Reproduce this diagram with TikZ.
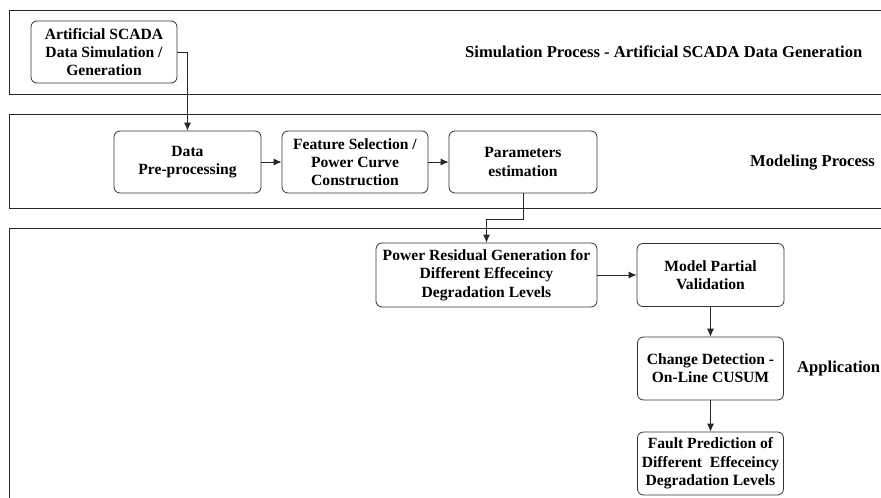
\documentclass[tikz,border=0pt]{standalone}
\usepackage{fontspec}
\setmainfont{Liberation Serif}
\usepackage{tikz}
\usetikzlibrary{arrows.meta}
\tikzset{
  stagebox/.style={draw=black!80, line width=0.8pt, rounded corners=6pt, align=center,
    minimum width=146pt, minimum height=62pt, inner sep=2pt,
    font=\fontsize{15.6}{18.3}\selectfont\bfseries},
  panel/.style={draw=black!85, line width=0.9pt},
  panellabel/.style={anchor=west, inner sep=0pt, font=\fontsize{16.6}{20}\selectfont\bfseries},
  flow/.style={draw=black!85, line width=0.8pt, -{Latex[length=8pt,width=7pt]}}
}

\begin{document}
\begin{tikzpicture}[x=1pt,y=-1pt]
		%%%%% START %%%%%
		\useasboundingbox (0,0) rectangle (881,498);
		\clip (0,0) rectangle (881,498);
		\fill[white] (0,0) rectangle (881,498);
		
		\draw[panel] (9,10) rectangle (900,94);
		\draw[panel] (9,114) rectangle (900,208);
		\draw[panel] (9,228) rectangle (900,530);
		
		\node[panellabel] (simlabel) at (465,52) {Simulation Process - Artificial SCADA Data Generation};
		\node[panellabel] (modlabel) at (750,163) {Modeling Process};
		\node[panellabel] (applabel) at (797,369) {Application};
		
		\node[stagebox] (gen) at (104,52) {Artificial SCADA\\Data Simulation /\\Generation};
		
		\node[stagebox, minimum width=147pt] (prep) at (187.5,162) {Data\\Pre-processing};
		\node[stagebox] (feat) at (355,162) {Feature Selection /\\Power Curve\\Construction};
		\node[stagebox, minimum width=148pt] (param) at (523,162) {Parameters\\estimation};
		
		\node[stagebox, minimum width=221pt, minimum height=64pt] (resid) at (486.5,275) {Power Residual Generation for\\Different Effeceincy\\Degradation Levels};
		\node[stagebox, minimum width=147pt, minimum height=63pt] (valid) at (710.5,275) {Model Partial\\Validation};
		\node[stagebox, minimum height=63pt] (cusum) at (710.5,368.5) {Change Detection -\\On-Line CUSUM};
		\node[stagebox, minimum height=63pt] (fault) at (710.5,463.5) {Fault Prediction of\\Different\ \ Effeceincy\\Degradation Levels};
		
		\draw[flow] (gen.east) -| (prep.north);
		\draw[flow] (prep.east) -- (feat.west);
		\draw[flow] (feat.east) -- (param.west);
		\draw[flow] (param.south) -- ++(0,26) -| (resid.north);
		\draw[flow] (resid.east) -- (valid.west);
		\draw[flow] (valid.south) -- (cusum.north);
		\draw[flow] (cusum.south) -- (fault.north);
		%%%%% END %%%%%
\end{tikzpicture}
\end{document}
